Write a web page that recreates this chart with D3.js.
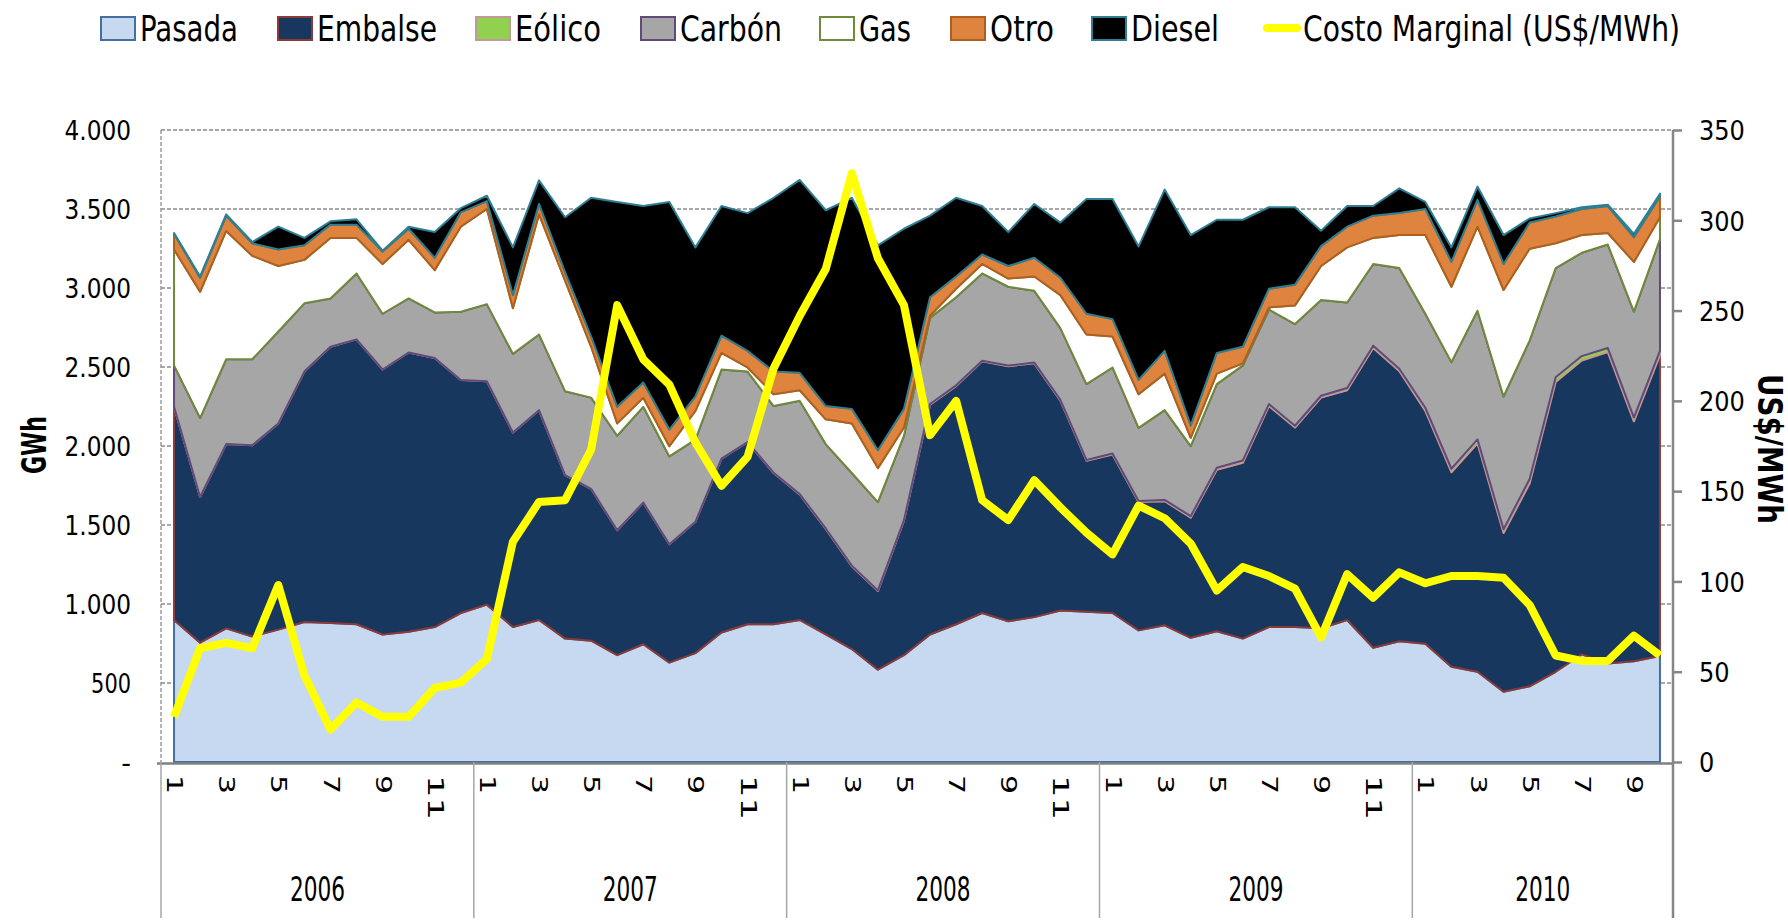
<!DOCTYPE html>
<html><head><meta charset="utf-8">
<script src="https://cdn.jsdelivr.net/npm/d3@7"></script>
<style>html,body{margin:0;padding:0;background:#fff;}</style>
</head><body>
<svg id="chart" width="1788" height="924"></svg>
<script>
// ---------- DATA ----------
const years = ["2006","2007","2008","2009","2010"];
const categories = [
 "2006-1","2006-2","2006-3","2006-4","2006-5","2006-6","2006-7","2006-8","2006-9","2006-10","2006-11","2006-12",
 "2007-1","2007-2","2007-3","2007-4","2007-5","2007-6","2007-7","2007-8","2007-9","2007-10","2007-11","2007-12",
 "2008-1","2008-2","2008-3","2008-4","2008-5","2008-6","2008-7","2008-8","2008-9","2008-10","2008-11","2008-12",
 "2009-1","2009-2","2009-3","2009-4","2009-5","2009-6","2009-7","2009-8","2009-9","2009-10","2009-11","2009-12",
 "2010-1","2010-2","2010-3","2010-4","2010-5","2010-6","2010-7","2010-8","2010-9","2010-10"];
const pasada = [899,755,846,794,838,886,880,872,807,825,854,943,
 996,854,899,781,768,676,745,629,689,820,872,872,
 899,807,715,584,676,807,872,943,891,917,959,951,
 943,833,865,786,828,781,854,854,846,899,723,764,
 749,603,571,445,479,571,681,624,637,671];
const embalse = [1349,922,1166,1210,1305,1585,1748,1803,1677,1767,1703,1475,
 1414,1231,1328,1034,961,791,897,749,831,1100,1153,957,
 794,668,524,498,851,1454,1507,1593,1614,1606,1328,956,
 1003,812,786,760,1022,1113,1399,1263,1460,1454,1897,1711,
 1473,1231,1446,1004,1284,1834,1860,1970,1519,1904];
const eolico = [0,0,0,0,0,0,0,0,0,0,0,0,
 0,0,0,0,0,0,0,0,0,0,0,2,
 3,3,4,4,4,5,5,4,4,5,5,5,
 6,7,8,10,12,14,12,11,12,14,15,14,
 20,22,25,24,28,30,28,26,24,27];
const carbon = [262,500,537,545,582,432,306,417,353,342,288,432,
 488,498,479,532,577,598,606,556,520,564,446,422,
 591,534,586,559,534,545,558,552,499,454,454,480,
 545,463,568,443,530,602,599,644,606,541,517,637,
 595,675,814,840,876,691,654,655,671,707];
const gas = [734,799,812,655,414,275,383,225,315,371,268,538,
 602,289,760,700,322,78,57,65,182,105,26,74,
 66,157,314,215,52,13,53,60,52,91,209,314,
 196,212,231,52,66,13,13,118,215,349,165,209,
 498,477,532,674,582,157,112,73,314,139];
const otro = [99,89,97,79,105,92,84,84,79,70,78,91,
 50,83,66,53,65,105,97,105,92,110,105,144,
 110,84,92,113,118,118,78,60,79,118,110,131,
 110,91,144,79,131,105,118,131,126,131,141,139,
 165,157,170,165,165,170,165,171,157,131];
const diesel = [5,8,8,8,144,47,21,34,5,13,163,26,
 34,302,149,348,878,1297,1117,1441,943,820,872,1100,
 1221,1239,1336,1297,1140,516,498,307,215,341,349,726,
 760,845,1021,1205,843,804,516,490,97,131,61,157,
 45,92,84,183,26,21,11,8,21,18];
const costo = [25,63,66,63,98,48,18,33,25,25,41,44,
 57,122,144,145,173,253,223,209,177,153,169,218,
 247,273,326,279,253,181,200,145,134,156,141,127,
 115,142,135,121,95,108,103,96,69,104,91,105,
 99,103,103,102,87,59,56,56,70,59];
const leftTicks = [0,500,1000,1500,2000,2500,3000,3500,4000];
const rightTicks = [0,50,100,150,200,250,300,350];
const seriesNames = ["Pasada","Embalse","Eólico","Carbón","Gas","Otro","Diesel"];
const lineName = "Costo Marginal (US$/MWh)";

// ---------- STYLES ----------
const fills =   {"Pasada":"#C6D9F1","Embalse":"#17375E","Eólico":"#92D050","Carbón":"#A6A6A6","Gas":"#FFFFFF","Otro":"#DE843E","Diesel":"#000000"};
const strokes = {"Pasada":"#44709F","Embalse":"#8A3A38","Eólico":"#C09A96","Carbón":"#5F4A7A","Gas":"#6F8A3A","Otro":"#B0601E","Diesel":"#2E7F93"};
const narrow = "'Liberation Sans Narrow','DejaVu Sans Condensed','Arial Narrow',sans-serif";
const numFont = "'DejaVu Sans','Verdana',sans-serif";

const svg = d3.select("#chart");
const L = 161, R = 1673, T = 130, B = 762;

const x = d3.scaleBand().domain(categories).range([L, R]).paddingInner(0).paddingOuter(0);
const xc = c => x(c) + x.bandwidth()/2;
const yL = d3.scaleLinear().domain([0,4000]).range([B, T]);
const yR = d3.scaleLinear().domain([0,350]).range([B, T]);

const rows = categories.map((c,i) => ({cat:c, "Pasada":pasada[i], "Embalse":embalse[i], "Eólico":eolico[i],
  "Carbón":carbon[i], "Gas":gas[i], "Otro":otro[i], "Diesel":diesel[i]}));
const stacked = d3.stack().keys(seriesNames)(rows);

// gridlines
svg.append("g").selectAll("line").data(leftTicks.filter(v=>v>0)).join("line")
  .attr("x1", L).attr("x2", R).attr("y1", d=>yL(d)).attr("y2", d=>yL(d))
  .attr("stroke","#8C8C8C").attr("stroke-width",1.3).attr("stroke-dasharray","4,2");
svg.append("line").attr("x1",L).attr("x2",L).attr("y1",T).attr("y2",B)
  .attr("stroke","#8C8C8C").attr("stroke-width",1.3).attr("stroke-dasharray","4,2");

// areas
const area = d3.area().x(d=>xc(d.data.cat)).y0(d=>yL(d[0])).y1(d=>yL(d[1]));
svg.append("g").selectAll("path").data(stacked).join("path")
  .attr("d", area)
  .attr("fill", d=>fills[d.key]).attr("stroke", d=>strokes[d.key])
  .attr("stroke-width", 2).attr("stroke-linejoin","round");

// category axis
const ax = svg.append("g").attr("transform",`translate(0,${B})`)
  .call(d3.axisBottom(x).tickValues(categories.filter(c=>(+c.split("-")[1])%2===1)).tickSize(0)
  .tickFormat(c=>c.split("-")[1]));
ax.select(".domain").remove();
ax.selectAll("text")
  .attr("y",0).attr("x",0).attr("dy","0.33em")
  .attr("transform","translate(0,13) rotate(90)")
  .attr("text-anchor","start")
  .attr("font-family", narrow).attr("font-size",21).attr("fill","#000")
  .each(function(){ const t=d3.select(this).text(); d3.select(this).attr("textLength", t.length>1?45:19).attr("lengthAdjust","spacingAndGlyphs"); });

svg.append("line").attr("x1",L-4).attr("x2",R).attr("y1",B+1.5).attr("y2",B+1.5)
  .attr("stroke","#808080").attr("stroke-width",2.5);

// year separators & labels
const yearStarts = years.map(yv => categories.findIndex(c=>c.startsWith(yv)));
const yearBounds = yearStarts.map(i=>x(categories[i])).concat([R]);
svg.append("g").selectAll("line").data(yearBounds.slice(0,-1)).join("line")
  .attr("x1",d=>d).attr("x2",d=>d).attr("y1",B).attr("y2",918)
  .attr("stroke","#A6A6A6").attr("stroke-width",1.5);
svg.append("g").selectAll("text").data(years).join("text")
  .attr("x",(d,i)=>(yearBounds[i]+yearBounds[i+1])/2).attr("y",901)
  .attr("text-anchor","middle").attr("font-family",narrow).attr("font-size",34)
  .attr("textLength",55).attr("lengthAdjust","spacingAndGlyphs").text(d=>d);

// left axis
const fmt = d3.formatLocale({decimal:",", thousands:".", grouping:[3], currency:["",""]}).format(",d");
const la = svg.append("g").attr("transform",`translate(${L-30},0)`)
  .call(d3.axisLeft(yL).tickValues(leftTicks).tickSize(0).tickPadding(0).tickFormat(v=>v===0?"-":fmt(v)));
la.select(".domain").remove();
la.selectAll("text").attr("font-family",numFont).attr("font-size",27).attr("fill","#000").attr("dy","0.36em")
  .each(function(){ const t=d3.select(this).text(); if(t.length>1){ d3.select(this).attr("textLength", t.length*13.3).attr("lengthAdjust","spacingAndGlyphs"); } });

// right axis
svg.append("line").attr("x1",R).attr("x2",R).attr("y1",T).attr("y2",918)
  .attr("stroke","#868686").attr("stroke-width",2.5);
const ra = svg.append("g").attr("transform",`translate(${R},0)`)
  .call(d3.axisRight(yR).tickValues(rightTicks).tickSize(9).tickPadding(17).tickFormat(d3.format("d")));
ra.select(".domain").remove();
ra.selectAll("line").attr("stroke","#868686").attr("stroke-width",2.5);
ra.selectAll("text").attr("font-family",numFont).attr("font-size",27).attr("fill","#000").attr("dy","0.36em")
  .each(function(){ const t=d3.select(this).text(); d3.select(this).attr("textLength", t.length*15.3).attr("lengthAdjust","spacingAndGlyphs"); });

// cost line
const line = d3.line().x((d,i)=>xc(categories[i])).y(d=>yR(d));
svg.append("path").datum(costo).attr("d",line).attr("fill","none")
  .attr("stroke","#FFFF00").attr("stroke-width",8).attr("stroke-linejoin","round");

// axis titles
svg.append("text").attr("transform","translate(46,445) rotate(-90)").attr("text-anchor","middle")
  .attr("font-family","'DejaVu Sans',sans-serif").attr("font-weight","bold").attr("font-size",33)
  .attr("textLength",58).attr("lengthAdjust","spacingAndGlyphs").text("GWh");
svg.append("text").attr("transform","translate(1758,449) rotate(90)").attr("text-anchor","middle")
  .attr("font-family","'DejaVu Sans',sans-serif").attr("font-weight","bold").attr("font-size",33)
  .attr("textLength",150).attr("lengthAdjust","spacingAndGlyphs").text("US$/MWh");

// legend
const legX = [100,277,475,640,819,950,1091,1263];
const legW = [98,120,86,102,52,64,88,377];
const legNames = seriesNames.concat([lineName]);
const lg = svg.append("g");
legNames.forEach((n,i)=>{
  if(i<7){
    lg.append("rect").attr("x",legX[i]+1).attr("y",17).attr("width",34).attr("height",23)
      .attr("fill",fills[n]).attr("stroke",strokes[n]).attr("stroke-width",2);
  } else {
    lg.append("line").attr("x1",legX[i]+4).attr("x2",legX[i]+34).attr("y1",28).attr("y2",28)
      .attr("stroke","#FFFF00").attr("stroke-width",8).attr("stroke-linecap","round");
  }
  lg.append("text").attr("x",legX[i]+40).attr("y",41).attr("font-family",narrow).attr("font-size",36)
    .attr("textLength",legW[i]).attr("lengthAdjust","spacingAndGlyphs").text(n);
});
</script>
</body></html>
